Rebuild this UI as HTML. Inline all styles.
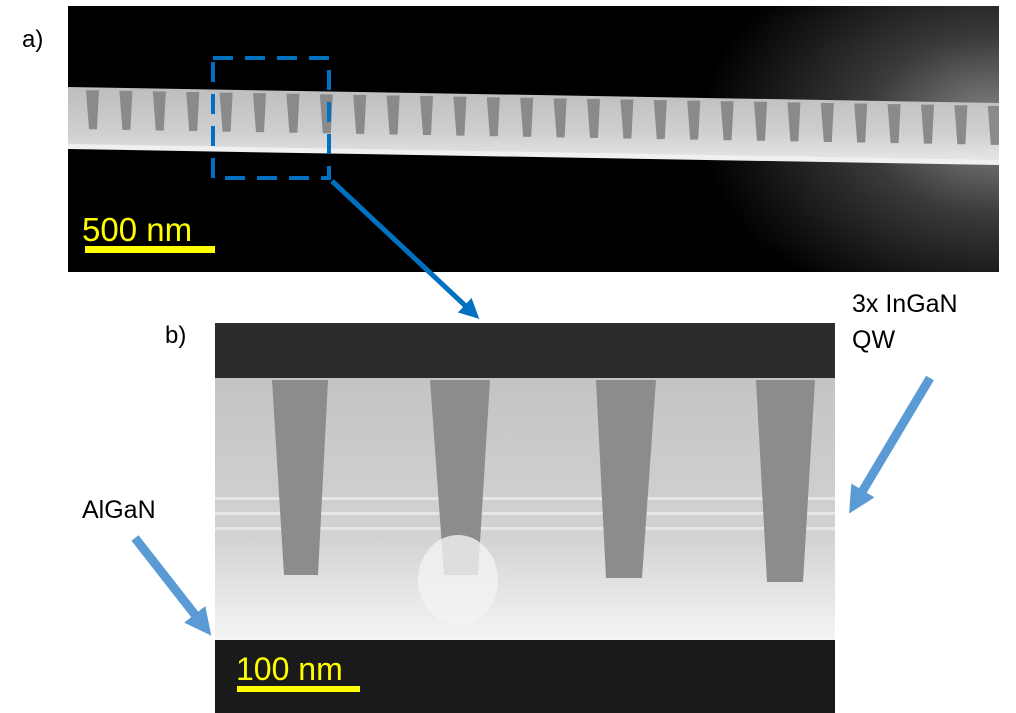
<!DOCTYPE html>
<html><head><meta charset="utf-8"><style>
html,body{margin:0;padding:0;background:#fff;}
svg{display:block;font-family:"Liberation Sans",sans-serif;}
</style></head><body>
<svg width="1016" height="713" viewBox="0 0 1016 713">
<defs>
<radialGradient id="glow" cx="1" cy="0.45" r="0.75">
<stop offset="0" stop-color="#8a8a8a"/><stop offset="0.45" stop-color="#3a3a3a"/><stop offset="1" stop-color="#000"/>
</radialGradient>
<linearGradient id="stripA" x1="0" y1="0" x2="0" y2="1">
<stop offset="0" stop-color="#bdbdbd"/><stop offset="0.6" stop-color="#cfcfcf"/><stop offset="1" stop-color="#e8e8e8"/>
</linearGradient>
<linearGradient id="bodyB" x1="0" y1="0" x2="0" y2="1">
<stop offset="0" stop-color="#c4c4c4"/><stop offset="0.6" stop-color="#d2d2d2"/><stop offset="0.9" stop-color="#ececec"/><stop offset="1" stop-color="#f4f4f4"/>
</linearGradient>
<clipPath id="clipA"><rect x="68" y="6" width="931" height="266"/></clipPath>
<marker id="ah1" markerWidth="4" markerHeight="4" refX="2" refY="2" orient="auto"><path d="M0,0 L4,2 L0,4 z" fill="#0070c0"/></marker>
<marker id="ah2" markerWidth="3" markerHeight="3" refX="1.5" refY="1.5" orient="auto"><path d="M0,0 L3,1.5 L0,3 z" fill="#5b9bd5"/></marker>
</defs>

<g clip-path="url(#clipA)">
<rect x="68" y="6" width="931" height="266" fill="#000"/>
<rect x="600" y="6" width="399" height="266" fill="url(#glow)"/>
<polygon points="68,87 999,103 999,163 68,146" fill="url(#stripA)"/>
<g id="teeth" fill="#8a8a8a"></g>
<polygon points="68,144 999,160 999,165 68,149" fill="#f0f0f0"/>
</g>
<rect x="213" y="58" width="116" height="120" fill="none" stroke="#0070c0" stroke-width="4" stroke-dasharray="20,12"/>
<line x1="332" y1="181" x2="472" y2="312" stroke="#0070c0" stroke-width="5" marker-end="url(#ah1)"/>
<text x="82" y="241" font-size="33" fill="#ffff00">500 nm</text>
<rect x="85" y="246" width="130" height="7" fill="#ffff00"/>
<text x="22" y="47" font-size="24" fill="#000">a)</text>

<g>
<rect x="215" y="323" width="620" height="390" fill="#151515"/>
<rect x="215" y="323" width="620" height="55" fill="#2c2c2c"/>
<rect x="215" y="378" width="620" height="262" fill="url(#bodyB)"/>
<rect x="215" y="497" width="620" height="3" fill="#e6e6e6"/>
<rect x="215" y="512" width="620" height="3" fill="#e6e6e6"/>
<rect x="215" y="527" width="620" height="3" fill="#e6e6e6"/>
<g fill="#8c8c8c">
<path d="M272,380 L328,380 L318,575 L284,575 Z"/>
<path d="M430,380 L490,380 L478,575 L444,575 Z"/>
<path d="M596,380 L656,380 L642,578 L606,578 Z"/>
<path d="M756,380 L815,380 L803,582 L767,582 Z"/>
</g>
<ellipse cx="458" cy="580" rx="40" ry="45" fill="#f2f2f2" opacity="0.8"/>
<rect x="215" y="640" width="620" height="73" fill="#1a1a1a"/>
</g>
<text x="236" y="680" font-size="32" fill="#ffff00">100 nm</text>
<rect x="237" y="686" width="123" height="6" fill="#ffff00"/>
<text x="165" y="343" font-size="24" fill="#000">b)</text>
<text x="852" y="312" font-size="25" fill="#000">3x InGaN</text>
<text x="852" y="348" font-size="25" fill="#000">QW</text>
<line x1="930" y1="378" x2="856" y2="502" stroke="#5b9bd5" stroke-width="9" marker-end="url(#ah2)"/>
<text x="82" y="518" font-size="25" fill="#000">AlGaN</text>
<line x1="135" y1="538" x2="203" y2="625" stroke="#5b9bd5" stroke-width="9" marker-end="url(#ah2)"/>
</svg>
<script>
var toothIndex=[0,1,2,3,4,5,6,7,8,9,10,11,12,13,14,15,16,17,18,19,20,21,22,23,24,25,26,27];
var g=document.getElementById('teeth');
toothIndex.forEach(function(i){
  var x=86+i*33.4;
  var top=87+(x-68)*0.0172;
  var r=document.createElementNS('http://www.w3.org/2000/svg','path');
  r.setAttribute('d','M'+x+','+(top+3)+' L'+(x+13)+','+(top+3)+' L'+(x+11)+','+(top+42)+' L'+(x+3)+','+(top+42)+' Z');
  
  
  g.appendChild(r);
});
</script>
</body></html>
